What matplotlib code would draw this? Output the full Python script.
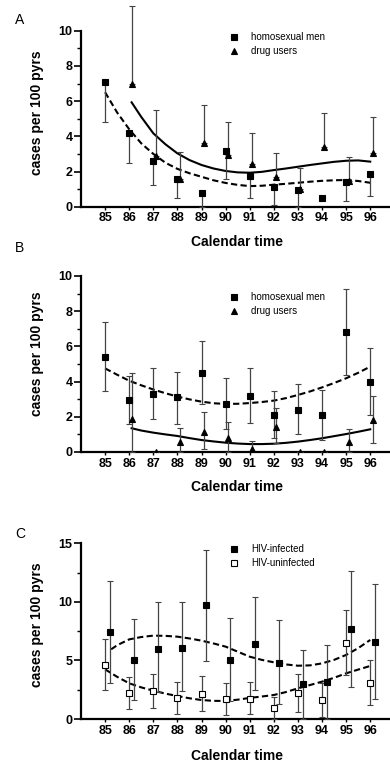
import matplotlib
matplotlib.use('Agg')
import matplotlib.pyplot as plt
from matplotlib.lines import Line2D

plt.rcParams['font.family'] = ['Liberation Sans', 'DejaVu Sans']

years = [85, 86, 87, 88, 89, 90, 91, 92, 93, 94, 95, 96]
year_labels = ['85', '86', '87', '88', '89', '90', '91', '92', '93', '94', '95', '96']

# Panel A
a_hom = [7.1, 4.2, 2.6, 1.55, 0.8, 3.15, 1.75, 1.1, 0.95, 0.5, 1.4, 1.85]
a_hom_lo = [4.8, 2.5, 1.25, 0.5, 0.0, 1.55, 0.5, 0.1, 0.0, 0.5, 0.3, 0.6]
a_drug_x = [86.1, 87.1, 88.1, 89.1, 90.1, 91.1, 92.1, 93.1, 94.1, 95.1, 96.1]
a_drug = [7.0, 2.9, 1.55, 3.6, 2.95, 2.45, 1.7, 1.0, 3.4, 1.45, 3.05]
a_drug_hi = [11.4, 5.5, 3.1, 5.8, 4.8, 4.2, 3.05, 2.2, 5.3, 2.8, 5.1]
a_fit_hom_x = [85, 85.5, 86, 86.5, 87, 87.5, 88, 88.5, 89, 89.5, 90, 90.5,
               91, 91.5, 92, 92.5, 93, 93.5, 94, 94.5, 95, 95.5, 96]
a_fit_hom = [6.5, 5.35, 4.4, 3.6, 3.0, 2.5, 2.15, 1.9, 1.7, 1.5, 1.35, 1.24,
             1.17, 1.19, 1.25, 1.3, 1.36, 1.42, 1.47, 1.5, 1.52, 1.46, 1.36]
a_fit_drug_x = [86.1, 86.5, 87, 87.5, 88, 88.5, 89, 89.5, 90, 90.5, 91, 91.5,
                92, 92.5, 93, 93.5, 94, 94.5, 95, 95.5, 96]
a_fit_drug = [5.93, 5.1, 4.17, 3.55, 3.03, 2.65, 2.37, 2.17, 2.03, 1.95, 1.93,
              1.98, 2.08, 2.17, 2.27, 2.37, 2.46, 2.55, 2.61, 2.63, 2.56]

# Panel B
b_hom = [5.4, 2.95, 3.3, 3.1, 4.5, 2.75, 3.2, 2.1, 2.4, 2.1, 6.8, 3.95]
b_hom_lo = [3.45, 1.6, 1.85, 1.6, 2.7, 1.3, 1.65, 0.8, 1.0, 0.7, 4.4, 2.1]
b_hom_hi = [7.4, 4.3, 4.8, 4.55, 6.3, 4.2, 4.8, 3.45, 3.85, 3.55, 9.25, 5.9]
b_drug_x = [86.1, 87.1, 88.1, 89.1, 90.1, 91.1, 92.1, 93.1, 94.1, 95.1, 96.1]
b_drug = [1.85, 0.0, 0.55, 1.15, 0.8, 0.15, 1.4, 0.0, 0.0, 0.55, 1.8]
b_drug_lo = [0.0, 0.0, 0.0, 0.15, 0.0, 0.0, 0.5, 0.0, 0.0, 0.0, 0.5]
b_drug_hi = [4.5, 0.0, 1.35, 2.25, 1.7, 0.65, 2.5, 0.0, 0.0, 1.3, 3.2]
b_fit_hom_x = [85, 85.5, 86, 86.5, 87, 87.5, 88, 88.5, 89, 89.5, 90, 90.5,
               91, 91.5, 92, 92.5, 93, 93.5, 94, 94.5, 95, 95.5, 96]
b_fit_hom = [4.75, 4.39, 4.05, 3.79, 3.55, 3.34, 3.15, 2.99, 2.86, 2.77, 2.73, 2.74,
             2.78, 2.84, 2.92, 3.06, 3.24, 3.44, 3.67, 3.92, 4.19, 4.5, 4.85]
b_fit_drug_x = [86.1, 86.5, 87, 87.5, 88, 88.5, 89, 89.5, 90, 90.5, 91, 91.5,
                92, 92.5, 93, 93.5, 94, 94.5, 95, 95.5, 96]
b_fit_drug = [1.35, 1.22, 1.1, 1.0, 0.91, 0.79, 0.68, 0.6, 0.53, 0.48, 0.45, 0.45,
              0.47, 0.52, 0.59, 0.68, 0.78, 0.9, 1.02, 1.15, 1.29]

# Panel C
c_inf_x = [85.2, 86.2, 87.2, 88.2, 89.2, 90.2, 91.2, 92.2, 93.2, 94.2, 95.2, 96.2]
c_inf = [7.4, 5.0, 5.95, 6.1, 9.7, 5.05, 6.4, 4.8, 2.95, 3.2, 7.65, 6.6]
c_inf_lo = [3.05, 1.6, 2.3, 2.35, 4.95, 1.5, 2.5, 1.3, 0.0, 0.0, 2.7, 1.75]
c_inf_hi = [11.8, 8.55, 9.95, 9.95, 14.45, 8.6, 10.4, 8.45, 5.85, 6.35, 12.65, 11.55]
c_uninf = [4.6, 2.2, 2.35, 1.8, 2.15, 1.7, 1.75, 0.9, 2.2, 1.65, 6.5, 3.1]
c_uninf_lo = [2.5, 0.85, 0.9, 0.45, 0.65, 0.35, 0.4, 0.0, 0.6, 0.2, 3.75, 1.2]
c_uninf_hi = [6.8, 3.55, 3.85, 3.15, 3.65, 3.1, 3.2, 1.9, 3.85, 3.1, 9.35, 5.05]
c_fit_inf_x = [85.25, 85.5, 86, 86.5, 87, 87.5, 88, 88.5, 89, 89.5, 90, 90.5,
               91, 91.5, 92, 92.5, 93, 93.5, 94, 94.5, 95, 95.5, 96]
c_fit_inf = [5.95, 6.3, 6.8, 7.0, 7.12, 7.1, 7.03, 6.88, 6.69, 6.45, 6.18, 5.75,
             5.32, 5.05, 4.84, 4.66, 4.55, 4.58, 4.75, 5.05, 5.47, 6.05, 6.75]
c_fit_uninf_x = [85, 85.5, 86, 86.5, 87, 87.5, 88, 88.5, 89, 89.5, 90, 90.5,
                 91, 91.5, 92, 92.5, 93, 93.5, 94, 94.5, 95, 95.5, 96]
c_fit_uninf = [4.24, 3.6, 3.05, 2.7, 2.42, 2.17, 1.96, 1.77, 1.62, 1.55, 1.54, 1.65,
               1.8, 1.92, 2.05, 2.3, 2.62, 2.9, 3.19, 3.52, 3.9, 4.22, 4.53]

W, H = 390, 766
fig = plt.figure(figsize=(W / 100, H / 100), dpi=100)

dash = (0, (3, 1.6))


def make_axes(y0_px, px_per_unit, ytop, ymax, ystep, minor_step):
    left = 81 / W
    bottom = (H - y0_px) / H
    height = ytop * px_per_unit / H
    ax = fig.add_axes([left, bottom, 1 - left, height])
    ax.set_xlim(84.0, 96.82)
    ax.set_ylim(0, ytop)
    for s in ['top', 'right']:
        ax.spines[s].set_visible(False)
    ax.spines['left'].set_bounds(0, ymax)
    ax.spines['left'].set_linewidth(1.6)
    ax.spines['bottom'].set_linewidth(1.6)
    ax.set_xticks(years)
    ax.set_xticklabels(year_labels, fontsize=9, fontweight='bold')
    yt = [i * ystep for i in range(int(ymax / ystep) + 1)]
    ax.set_yticks(yt)
    ax.set_yticklabels([str(int(v)) for v in yt], fontsize=9, fontweight='bold')
    ax.set_yticks([minor_step * (2 * i + 1) for i in range(int(ymax / (2 * minor_step)))], minor=True)
    ax.tick_params(axis='y', which='major', length=5, width=1.2, pad=1)
    ax.tick_params(axis='y', which='minor', length=3, width=1)
    ax.tick_params(axis='x', which='major', length=2, width=1, pad=2)
    return ax


def eb(ax, x, y, lo, hi, marker, mfc, ms):
    yerr = [[v - l for v, l in zip(y, lo)], [h - v for v, h in zip(y, hi)]]
    ax.errorbar(x, y, yerr=yerr, fmt=marker, color='black', mfc=mfc, mec='black',
                ms=ms, mew=0.8, ecolor='#444444', elinewidth=0.9, capsize=2.5,
                capthick=0.9, zorder=3)


# ---- Panel A
axA = make_axes(206.7, 17.6, 11.5, 10, 2, 1)
eb(axA, years, a_hom, a_hom_lo, a_hom, 's', 'black', 4)
eb(axA, a_drug_x, a_drug, a_drug, a_drug_hi, '^', 'black', 4)
axA.plot(a_fit_hom_x, a_fit_hom, color='black', lw=1.5, linestyle=dash)
axA.plot(a_fit_drug_x, a_fit_drug, color='black', lw=1.5)

# ---- Panel B
axB = make_axes(452, 17.6, 10.5, 10, 2, 1)
eb(axB, years, b_hom, b_hom_lo, b_hom_hi, 's', 'black', 4)
eb(axB, b_drug_x, b_drug, b_drug_lo, b_drug_hi, '^', 'black', 4)
axB.plot(b_fit_hom_x, b_fit_hom, color='black', lw=1.5, linestyle=dash)
axB.plot(b_fit_drug_x, b_fit_drug, color='black', lw=1.5)

# ---- Panel C
axC = make_axes(719, 11.71, 15.5, 15, 5, 2.5)
eb(axC, years, c_uninf, c_uninf_lo, c_uninf_hi, 's', 'white', 4)
eb(axC, c_inf_x, c_inf, c_inf_lo, c_inf_hi, 's', 'black', 4)
axC.plot(c_fit_inf_x, c_fit_inf, color='black', lw=1.5, linestyle=dash)
axC.plot(c_fit_uninf_x, c_fit_uninf, color='black', lw=1.5, linestyle=dash)


def legend(ax, labels, mfcs, markers, top_px):
    handles = [Line2D([], [], linestyle='none', marker=m, mfc=f, mec='black',
                      ms=4, mew=0.8) for m, f in zip(markers, mfcs)]
    ax.legend(handles, labels, loc='upper left', frameon=False,
              bbox_to_anchor=(229 / W, 1 - top_px / H), bbox_transform=fig.transFigure,
              fontsize=7, handlelength=1.0, handletextpad=1.3, labelspacing=0.45,
              borderpad=0, borderaxespad=0)


legend(axA, ['homosexual men', 'drug users'], ['black', 'black'], ['s', '^'], 32)
legend(axB, ['homosexual men', 'drug users'], ['black', 'black'], ['s', '^'], 292)
legend(axC, ['HIV-infected', 'HIV-uninfected'], ['black', 'white'], ['s', 's'], 544)

# axis titles and panel letters
for ycen, xl_y, letter, ly in [(113, 242, 'A', 20), (354, 487, 'B', 248), (625, 756, 'C', 534)]:
    fig.text(37 / W, 1 - ycen / H, 'cases per 100 pyrs', rotation=90, fontsize=10,
             fontweight='bold', ha='center', va='center')
    fig.text(237 / W, 1 - xl_y / H, 'Calendar time', fontsize=10, fontweight='bold',
             ha='center', va='center')
    fig.text(20 / W, 1 - ly / H, letter, fontsize=10, ha='center', va='center')

fig.savefig('out.png', dpi=100)
